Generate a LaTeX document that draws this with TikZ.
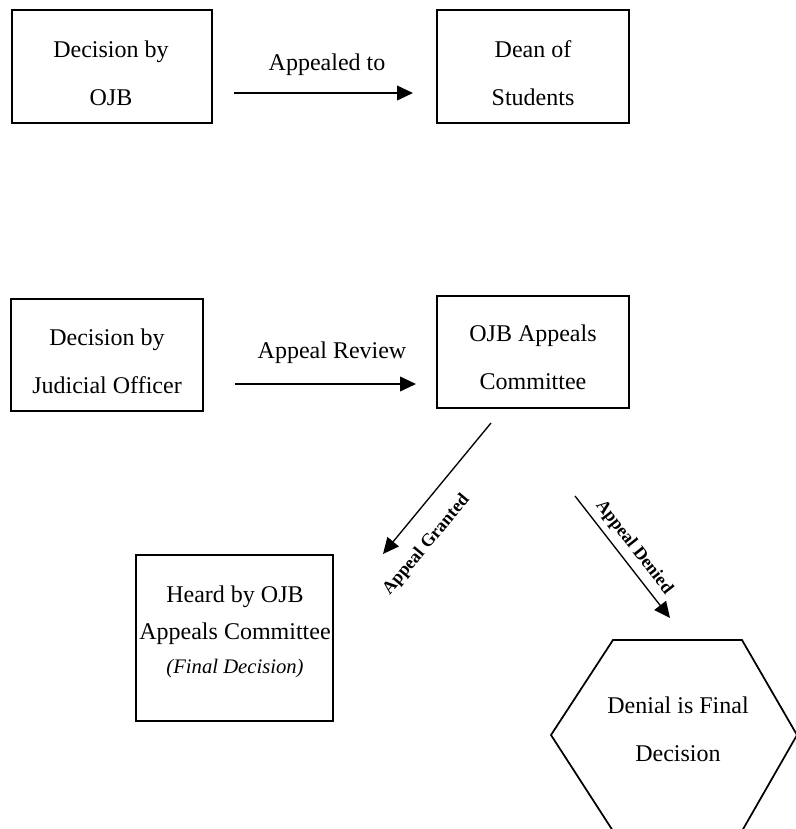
\documentclass[tikz,border=0pt]{standalone}
\usepackage{fontspec}
\setmainfont{Liberation Serif}
\usetikzlibrary{arrows.meta,calc}
\begin{document}
\begin{tikzpicture}[x=0.75pt,y=-0.75pt,
  boxnode/.style={draw,line width=1.5pt,inner sep=0pt},
  txt/.style={align=center,font=\fontsize{18}{36}\selectfont,inner sep=0pt},
  lbl/.style={font=\fontsize{18}{22}\selectfont,inner sep=0pt},
  ilbl/.style={font=\fontsize{15.5}{18}\selectfont\itshape,inner sep=0pt},
  blbl/.style={font=\fontsize{13.5}{16}\selectfont\bfseries,inner sep=0pt},
  arr/.style={line width=1.3pt,-{Triangle[length=12pt,width=11pt]}},
  darr/.style={line width=1pt,-{Triangle[length=12pt,width=11pt]}},
  hexline/.style={line width=1.3pt,line join=miter}]
\useasboundingbox (0,0) rectangle (796,829);
\clip (0,0) rectangle (796,829);
\fill[white] (0,0) rectangle (796,829);

% top row
\node[boxnode,minimum width=150pt,minimum height=84.75pt] (b1) at (112,66.5) {};
\node[txt] (b1t) at (111,73) {Decision by\\OJB};
\node[boxnode,minimum width=144pt,minimum height=84.75pt] (dean) at (533,66.5) {};
\node[txt] (deant) at (533,73) {Dean of\\Students};
\node[lbl] (l1) at (327,65) {Appealed to};
\draw[arr] ($(b1.east)+(21,26.5)$) -- ($(dean.west)+(-23,26.5)$);

% second row
\node[boxnode,minimum width=144pt,minimum height=84pt] (jud) at (107,355) {};
\node[txt] (judt) at (107,361) {Decision by\\Judicial Officer};
\node[boxnode,minimum width=144pt,minimum height=84pt] (ojb) at (533,352) {};
\node[txt] (ojbt) at (533,357) {OJB Appeals\\Committee};
\node[lbl] (l2) at (332,353) {Appeal Review};
\draw[arr] ($(jud.east)+(31,29)$) -- ($(ojb.west)+(-20,32)$);

% heard box
\node[boxnode,minimum width=147.75pt,minimum height=124.5pt] (heard) at (234.5,638) {};
\node[lbl] (h1) at (235,597) {Heard by OJB};
\node[lbl] (h2) at (235,634) {Appeals Committee};
\node[ilbl] (h3) at (235,669) {(Final Decision)};

% hexagon
\draw[hexline] (613,640) -- (742,640) -- (797,735) -- (742,831) -- (613,831) -- (551,735) -- cycle;
\coordinate (hextop) at (677.5,640);
\node[txt] (hext) at (678,729) {Denial is Final\\Decision};

% diagonal arrows
\draw[darr] ($(ojb.south)+(-42,14)$) -- ($(heard.north east)+(49,0)$);
\node[blbl,rotate=50] (lg) at (426.5,545) {Appeal Granted};
\draw[darr] ($(ojb.south east)+(-55,87)$) -- ($(hextop)+(-7.5,-22)$);
\node[blbl,rotate=-52] (ld) at (634,547.5) {Appeal Denied};
\end{tikzpicture}
\end{document}
